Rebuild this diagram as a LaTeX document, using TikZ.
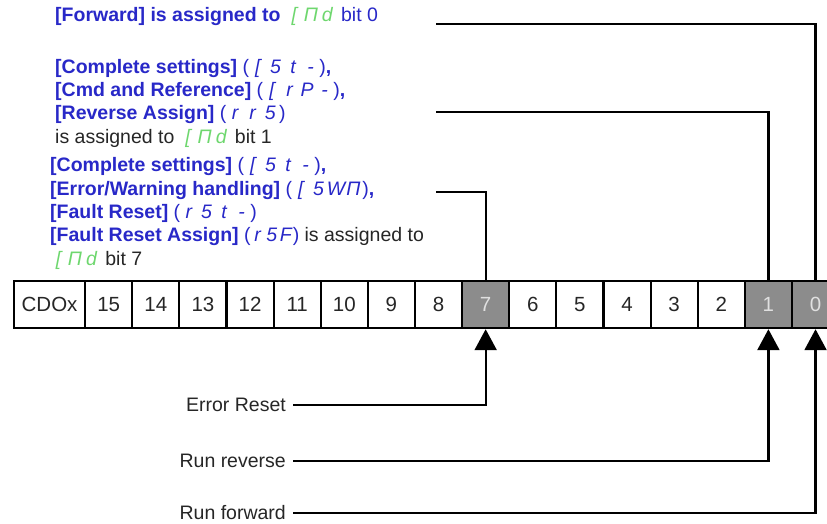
\documentclass[tikz,border=0pt]{standalone}
\usepackage{fontspec}
\setmainfont{Liberation Sans}
\usetikzlibrary{arrows.meta}
\definecolor{tblue}{RGB}{40,40,200}
\definecolor{sgreen}{RGB}{110,215,110}
\definecolor{cgray}{RGB}{140,140,140}
% one seven-segment style glyph in a fixed-pitch cell
\newcommand{\sg}[2][0.9em]{\makebox[#1]{\mdseries\itshape #2}}
\newcommand{\cmdseg}{\textcolor{sgreen}{\sg[0.85em]{[}\sg[0.85em]{Π}\sg[0.85em]{d}}}
\newcommand{\codeseg}[1]{{\mdseries(}#1{\mdseries)}}
\newcommand{\plain}[1]{{\mdseries\color{black!85}#1}}
\tikzset{
  conn/.style={line width=2.2pt, draw=black},
  arr/.style={conn, -{Triangle[length=21pt,width=22pt]}},
  bitw/.style={draw, line width=2.2pt, fill=white, minimum width=47.125pt,
    minimum height=47pt, anchor=north west, inner sep=0pt,
    font=\fontsize{20.5}{24}\selectfont, text=black!85},
  bitg/.style={bitw, fill=cgray, text=white!88!black},
  blk/.style={align=left, inner sep=0pt, anchor=base west, text=tblue,
    font=\fontsize{19.5}{23.3}\selectfont\bfseries},
  lbl/.style={inner xsep=7pt, inner ysep=0pt, anchor=east,
    font=\fontsize{19.5}{23}\selectfont, text=black!85},
}
\begin{document}
\begin{tikzpicture}[x=1pt,y=-1pt]
\path[use as bounding box, clip] (0,0) rectangle (827,523);
\fill[white] (0,0) rectangle (827,523);

% register cells
\node[bitw, minimum width=71pt] (cdox) at (13,280) {CDOx};
\foreach \k/\st in {15/bitw,14/bitw,13/bitw,12/bitw,11/bitw,10/bitw,9/bitw,8/bitw,
                    7/bitg,6/bitw,5/bitw,4/bitw,3/bitw,2/bitw,1/bitg,0/bitg}
  \node[\st] (c\k) at ({84+(15-\k)*47.125},280) {\k};

% top text blocks (anchor = baseline of the last line)
\node[blk] (t0) at (55,21) {[Forward] is assigned to \cmdseg{} {\mdseries bit 0}};
\node[blk] (t1) at (55,143) {[Complete settings] \codeseg{\sg{[}\sg{5}\sg{t}\sg{-}},\\{}%
[Cmd and Reference] \codeseg{\sg{[}\sg{r}\sg{P}\sg{-}},\\{}%
[Reverse Assign] \codeseg{\sg{r}\sg{r}\sg{5}}\\{}%
\plain{is assigned to} \cmdseg{} \plain{bit 1}};
\node[blk] (t7) at (50,265) {[Complete settings] \codeseg{\sg{[}\sg{5}\sg{t}\sg{-}},\\{}%
[Error/Warning handling] \codeseg{\sg{[}\sg{5}\sg{W}\sg{Π}},\\{}%
[Fault Reset] \codeseg{\sg{r}\sg{5}\sg{t}\sg{-}}\\{}%
[Fault Reset Assign] \codeseg{\sg[0.72em]{r}\sg[0.72em]{5}\sg[0.72em]{F}} \plain{is assigned to}\\{}%
\cmdseg{} \plain{bit 7}};

% top connectors
\coordinate (s0) at (436,24);
\coordinate (s1) at (436,112);
\coordinate (s7) at (436,192);
\draw[conn] (s0) -| (c0.north);
\draw[conn] (s1) -| (c1.north);
\draw[conn] (s7) -| (c7.north);

% bottom labels and arrows
\node[lbl] (er) at (293,405) {Error Reset};
\node[lbl] (rr) at (293,461) {Run reverse};
\node[lbl] (rf) at (293,513) {Run forward};
\draw[arr] (er.east) -| (c7.south);
\draw[arr] (rr.east) -| (c1.south);
\draw[arr] (rf.east) -| (c0.south);
\end{tikzpicture}
\end{document}
